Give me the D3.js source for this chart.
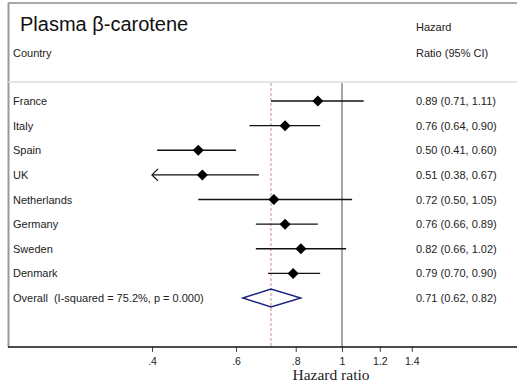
<!DOCTYPE html>
<html>
<head>
<meta charset="utf-8">
<script src="https://cdn.jsdelivr.net/npm/d3@7/dist/d3.min.js"></script>
<style>
  body { margin: 0; background: #fff; }
  svg { display: block; font-family: "Liberation Sans", Arial, sans-serif; }
</style>
</head>
<body>
<svg id="chart" width="517" height="385"></svg>
<script>
// study rows
const countries = ['France', 'Italy', 'Spain', 'UK', 'Netherlands', 'Germany', 'Sweden', 'Denmark'];
const hr = [0.89, 0.76, 0.50, 0.51, 0.72, 0.76, 0.82, 0.79];
const lo = [0.71, 0.64, 0.41, 0.38, 0.50, 0.66, 0.66, 0.70];
const hi = [1.11, 0.90, 0.60, 0.67, 1.05, 0.89, 1.02, 0.90];

// pooled estimate
const overallLabel = 'Overall  (I-squared = 75.2%, p = 0.000)';
const overall = [0.71, 0.62, 0.82]; // hr, lo, hi

const tickVals = [0.4, 0.6, 0.8, 1, 1.2, 1.4];
const tickLabels = ['.4', '.6', '.8', '1', '1.2', '1.4'];

const fmt = d3.format('.2f');
const svg = d3.select('#chart');

const x = d3.scaleLog().domain([0.4, 1]).range([152, 342]);
const xMin = 0.4; // lines clipped here, arrow drawn
const rows = countries.concat(['Overall']);
const y = d3.scalePoint().domain(rows).range([101, 298]);

const plotTop = 83, axisY = 347;
const fs = 11;

// frame
svg.append('line').attr('x1', 8).attr('x2', 517).attr('y1', 3).attr('y2', 3)
  .attr('stroke', '#555').attr('stroke-width', 1.2);
svg.append('line').attr('x1', 8.5).attr('x2', 8.5).attr('y1', 3).attr('y2', axisY)
  .attr('stroke', '#999').attr('stroke-width', 2);
svg.append('line').attr('x1', 8).attr('x2', 517).attr('y1', 82).attr('y2', 82)
  .attr('stroke', '#ddd').attr('stroke-width', 1.5);

// header
svg.append('text').attr('x', 20).attr('y', 31).attr('font-size', 20).attr('fill', '#111')
  .text('Plasma β-carotene');
svg.append('text').attr('x', 13).attr('y', 57).attr('font-size', fs).attr('fill', '#222')
  .text('Country');
svg.append('text').attr('x', 416).attr('y', 31).attr('font-size', fs).attr('fill', '#222')
  .text('Hazard');
svg.append('text').attr('x', 416).attr('y', 57).attr('font-size', fs).attr('fill', '#222')
  .text('Ratio (95% CI)');

// null line and pooled line
svg.append('line').attr('x1', x(1)).attr('x2', x(1)).attr('y1', plotTop).attr('y2', axisY)
  .attr('stroke', '#888').attr('stroke-width', 1.5);
svg.append('line').attr('x1', x(overall[0])).attr('x2', x(overall[0])).attr('y1', plotTop).attr('y2', axisY)
  .attr('stroke', '#c98a8a').attr('stroke-width', 1).attr('stroke-dasharray', '3,2');

// CI lines
const g = svg.append('g');
countries.forEach((c, i) => {
  const yy = y(c);
  const x0 = x(Math.max(lo[i], xMin));
  g.append('line').attr('x1', x0).attr('x2', x(hi[i])).attr('y1', yy).attr('y2', yy)
    .attr('stroke', '#111').attr('stroke-width', 1.3);
  if (lo[i] < xMin) {
    g.append('path').attr('d', `M${x0 + 6},${yy - 6} L${x0},${yy} L${x0 + 6},${yy + 6}`)
      .attr('fill', 'none').attr('stroke', '#111').attr('stroke-width', 1.3);
  }
  const px = x(hr[i]);
  g.append('path').attr('d', `M${px},${yy - 5.5} L${px + 5.5},${yy} L${px},${yy + 5.5} L${px - 5.5},${yy} Z`)
    .attr('fill', '#000');

  svg.append('text').attr('x', 13).attr('y', yy + 4).attr('font-size', fs).attr('fill', '#222').text(c);
  svg.append('text').attr('x', 416).attr('y', yy + 4).attr('font-size', fs).attr('fill', '#222')
    .text(`${fmt(hr[i])} (${fmt(lo[i])}, ${fmt(hi[i])})`);
});

// overall diamond
const oy = y('Overall');
svg.append('path')
  .attr('d', `M${x(overall[1])},${oy} L${x(overall[0])},${oy - 9} L${x(overall[2])},${oy} L${x(overall[0])},${oy + 9} Z`)
  .attr('fill', 'none').attr('stroke', '#1a237e').attr('stroke-width', 1.4);
svg.append('text').attr('x', 13).attr('y', oy + 4).attr('font-size', fs).attr('fill', '#222')
  .attr('xml:space', 'preserve').style('white-space', 'pre').text(overallLabel);
svg.append('text').attr('x', 416).attr('y', oy + 4).attr('font-size', fs).attr('fill', '#222')
  .text(`${fmt(overall[0])} (${fmt(overall[1])}, ${fmt(overall[2])})`);

// x axis
const axis = d3.axisBottom(x).tickValues(tickVals)
  .tickFormat((d, i) => tickLabels[i]).tickSize(5).tickPadding(6);
const ax = svg.append('g').attr('transform', `translate(0,${axisY})`).call(axis);
ax.select('.domain').remove();
ax.selectAll('text').attr('font-size', 10.5).attr('fill', '#222')
  .attr('font-family', '"Liberation Sans", Arial, sans-serif');
ax.selectAll('.tick line').attr('stroke', '#444');
svg.append('line').attr('x1', 8).attr('x2', 517).attr('y1', axisY).attr('y2', axisY)
  .attr('stroke', '#111').attr('stroke-width', 1.6);

svg.append('text').attr('x', 331).attr('y', 380).attr('text-anchor', 'middle')
  .attr('font-family', '"Liberation Serif", "Times New Roman", serif')
  .attr('font-size', 15.5).attr('fill', '#222').text('Hazard ratio');
</script>
</body>
</html>
